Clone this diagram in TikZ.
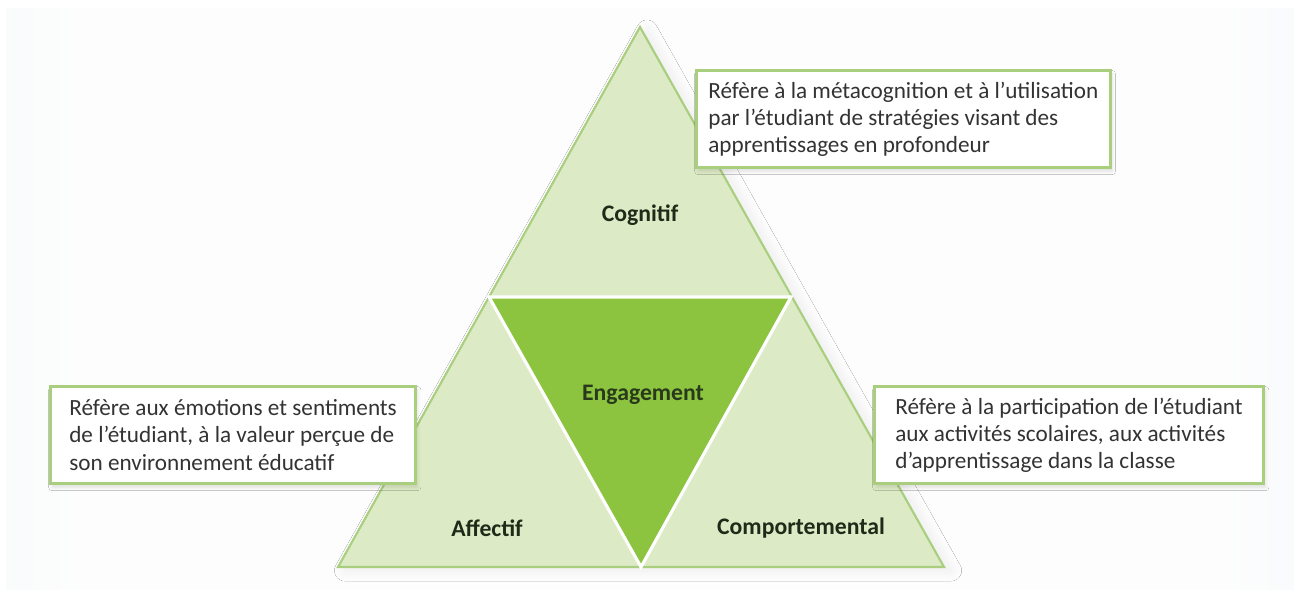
\documentclass[tikz,border=0pt]{standalone}
\usepackage{fontspec}
\setmainfont{Carlito}
\usetikzlibrary{shadows.blur}

\definecolor{lightgreen}{HTML}{DDEAC6}
\definecolor{darkgreen}{HTML}{8CC43F}
\definecolor{edgegreen}{HTML}{A8CE7E}
\definecolor{bggray}{HTML}{DDE3E8}
\definecolor{textgray}{HTML}{333333}
\definecolor{labelcol}{HTML}{1E2B18}

\pgfdeclarehorizontalshading{backdrop}{100bp}{color(0bp)=(bggray); color(28bp)=(white!94!bggray); color(72bp)=(white!94!bggray); color(100bp)=(bggray)}

\tikzset{
	infobox/.style={draw=edgegreen, line width=1.5pt, fill=white, anchor=north west, align=left,
		inner xsep=0.4cm, minimum height=1.95cm, font=\fontsize{13.2}{15.5}\selectfont, text=textgray,
		blur shadow={shadow xshift=1pt, shadow yshift=-2pt, shadow opacity=12, shadow blur steps=6}},
	partlabel/.style={font=\fontsize{13.5}{16}\selectfont\bfseries, text=labelcol}
}

\begin{document}
\begin{tikzpicture}[x=0.02cm, y=-0.02cm]
	
	\useasboundingbox (0,0) rectangle (1294,591);
	\shade[shading=backdrop] (6,9) rectangle (1294,589);
	
	\coordinate (top) at (640,27);
	\coordinate (bl) at (338,567);
	\coordinate (br) at (944,567);
	\coordinate (ml) at (489,297);
	\coordinate (mr) at (791,297);
	\coordinate (mb) at (641,567);
	
	\draw[fill=lightgreen, draw=edgegreen, line width=1.2pt,
		blur shadow={shadow xshift=4pt, shadow yshift=-2pt, shadow opacity=7, shadow blur steps=10, shadow blur radius=6pt}]
		(top) -- (bl) -- (br) -- cycle;
	\fill[darkgreen] (ml) -- (mr) -- (mb) -- cycle;
	\draw[white, line width=1.8pt] (ml) -- (mr) -- (mb) -- cycle;
	%\draw[edgegreen, line width=1.2pt] (top) -- (bl) -- (br) -- cycle;
	
	\node[partlabel] (cognitif) at (640,215) {Cognitif};
	\node[partlabel, text=labelcol!90!darkgreen] (engagement) at (643,395) {Engagement};
	\node[partlabel] (affectif) at (487,528) {Affectif};
	\node[partlabel] (comport) at (801,528) {Comportemental};
	
	\node[infobox, inner xsep=0.24cm] (cognitifbox) at (695,69)
		{Réfère à la métacognition et à l’utilisation\\par l’étudiant de stratégies visant des\\apprentissages en profondeur};
	\node[infobox, inner xsep=0.38cm] (affectifbox) at (49,385)
		{Réfère aux émotions et sentiments\\de l’étudiant, à la valeur perçue de\\son environnement éducatif};
	\node[infobox, inner xsep=0.42cm] (comportbox) at (873,385)
		{Réfère à la participation de l’étudiant\\aux activités scolaires, aux activités\\d’apprentissage dans la classe};
	
\end{tikzpicture}
\end{document}
